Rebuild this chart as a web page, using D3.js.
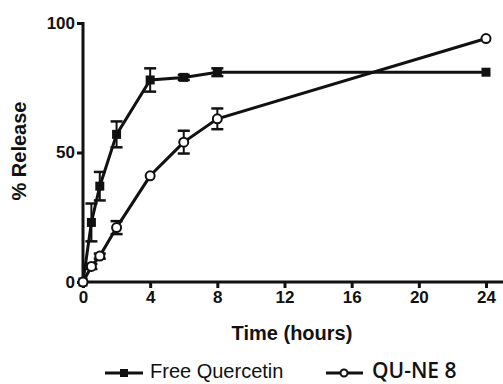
<!DOCTYPE html>
<html>
<head>
<meta charset="utf-8">
<script src="https://cdn.jsdelivr.net/npm/d3@7"></script>
<style>
  body { margin: 0; background: #fff; }
  svg text { font-family: Arial, "Liberation Sans", sans-serif; fill: #111; }
</style>
</head>
<body>
<div id="chart"></div>
<script>
// time points (hours)
const times = [0, 0.5, 1, 2, 4, 6, 8, 24];
// Free Quercetin release (%) and SD
const freeQuercetin = [0, 23, 37, 57, 78, 79, 81, 81];
const freeErr = [0, 7.3, 5.5, 5, 4.5, 1, 1.5, 0];
// QU-NE 8 release (%) and SD
const quNe8 = [0, 6, 10, 21, 41, 54, 63, 94];
const quErr = [0, 1, 1, 2.5, 0, 4.4, 4, 0];
const xTicks = [0, 4, 8, 12, 16, 20, 24];
const yTicks = [0, 50, 100];

const width = 503, height = 384;
const margin = { top: 23, right: 17, bottom: 102, left: 83 };

const svg = d3.select('#chart').append('svg')
    .attr('width', width)
    .attr('height', height);

const x = d3.scaleLinear().domain([0, 24]).range([margin.left, 486]);
const y = d3.scaleLinear().domain([0, 100]).range([height - margin.bottom, margin.top]);

// x axis
const xAxis = svg.append('g')
    .attr('transform', `translate(0,${y(0)})`)
    .call(d3.axisBottom(x).tickValues(xTicks).tickSize(6).tickPadding(3).tickSizeOuter(0));
xAxis.select('.domain').remove();
xAxis.append('line')
    .attr('x1', x(0) - 1).attr('x2', width)
    .attr('stroke', '#111').attr('stroke-width', 3);
xAxis.selectAll('.tick line').attr('stroke', '#111').attr('stroke-width', 3);
xAxis.selectAll('text')
    .attr('font-size', '17px').attr('font-weight', 'bold')
    .attr('fill', '#111');

// y axis
const yAxis = svg.append('g')
    .attr('transform', `translate(${x(0)},0)`)
    .call(d3.axisLeft(y).tickValues(yTicks).tickSize(6).tickPadding(2).tickSizeOuter(0));
yAxis.select('.domain').remove();
yAxis.append('line')
    .attr('y1', y(100) - 1).attr('y2', y(0) + 1)
    .attr('stroke', '#111').attr('stroke-width', 3);
yAxis.selectAll('.tick line').attr('stroke', '#111').attr('stroke-width', 3);
yAxis.selectAll('text')
    .attr('font-size', '17px').attr('font-weight', 'bold')
    .attr('fill', '#111');

// axis titles
svg.append('text')
    .attr('x', 292).attr('y', 340)
    .attr('text-anchor', 'middle')
    .attr('font-size', '20px').attr('font-weight', 'bold')
    .text('Time (hours)');

svg.append('text')
    .attr('transform', 'translate(26,151) rotate(-90)')
    .attr('text-anchor', 'middle')
    .attr('font-size', '20px').attr('font-weight', 'bold')
    .text('% Release');

const series = [
    { name: 'Free Quercetin', values: freeQuercetin, err: freeErr, marker: 'square' },
    { name: 'QU-NE 8', values: quNe8, err: quErr, marker: 'circle' }
];

const line = d3.line()
    .x(d => x(d.t))
    .y(d => y(d.v));

const plot = svg.append('g');

series.forEach(s => {
    const pts = times.map((t, i) => ({ t: t, v: s.values[i], e: s.err[i] }));

    // error bars
    const eb = plot.append('g');
    pts.filter(d => d.e > 0).forEach(d => {
        eb.append('line')
            .attr('x1', x(d.t)).attr('x2', x(d.t))
            .attr('y1', y(d.v + d.e)).attr('y2', y(d.v - d.e))
            .attr('stroke', '#111').attr('stroke-width', 2);
        [d.v + d.e, d.v - d.e].forEach(v => {
            eb.append('line')
                .attr('x1', x(d.t) - 6).attr('x2', x(d.t) + 6)
                .attr('y1', y(v)).attr('y2', y(v))
                .attr('stroke', '#111').attr('stroke-width', 2.5);
        });
    });

    plot.append('path')
        .datum(pts)
        .attr('fill', 'none')
        .attr('stroke', '#111')
        .attr('stroke-width', 3)
        .attr('d', line);

    if (s.marker === 'square') {
        plot.selectAll(null)
            .data(pts).enter().append('rect')
            .attr('x', d => x(d.t) - 4.5).attr('y', d => y(d.v) - 4.5)
            .attr('width', 9).attr('height', 9)
            .attr('fill', '#111');
    } else {
        plot.selectAll(null)
            .data(pts).enter().append('circle')
            .attr('cx', d => x(d.t)).attr('cy', d => y(d.v))
            .attr('r', 4.5)
            .attr('fill', '#fff').attr('stroke', '#111').attr('stroke-width', 2);
    }
});

// legend
const legend = svg.append('g');
legend.append('line')
    .attr('x1', 105).attr('x2', 143).attr('y1', 373).attr('y2', 373)
    .attr('stroke', '#111').attr('stroke-width', 3);
legend.append('rect')
    .attr('x', 120).attr('y', 369).attr('width', 8).attr('height', 8)
    .attr('fill', '#111');
legend.append('text')
    .attr('x', 150).attr('y', 378)
    .attr('font-size', '20px')
    .text('Free Quercetin');

legend.append('line')
    .attr('x1', 326).attr('x2', 363).attr('y1', 373).attr('y2', 373)
    .attr('stroke', '#111').attr('stroke-width', 3);
legend.append('circle')
    .attr('cx', 344).attr('cy', 373).attr('r', 3.5)
    .attr('fill', '#fff').attr('stroke', '#111').attr('stroke-width', 2);
legend.append('text')
    .attr('x', 372).attr('y', 378)
    .attr('font-size', '21px').attr('font-weight', '600')
    .style('font-family', '"Open Sans", sans-serif')
    .text('QU-NE 8');
</script>
</body>
</html>
